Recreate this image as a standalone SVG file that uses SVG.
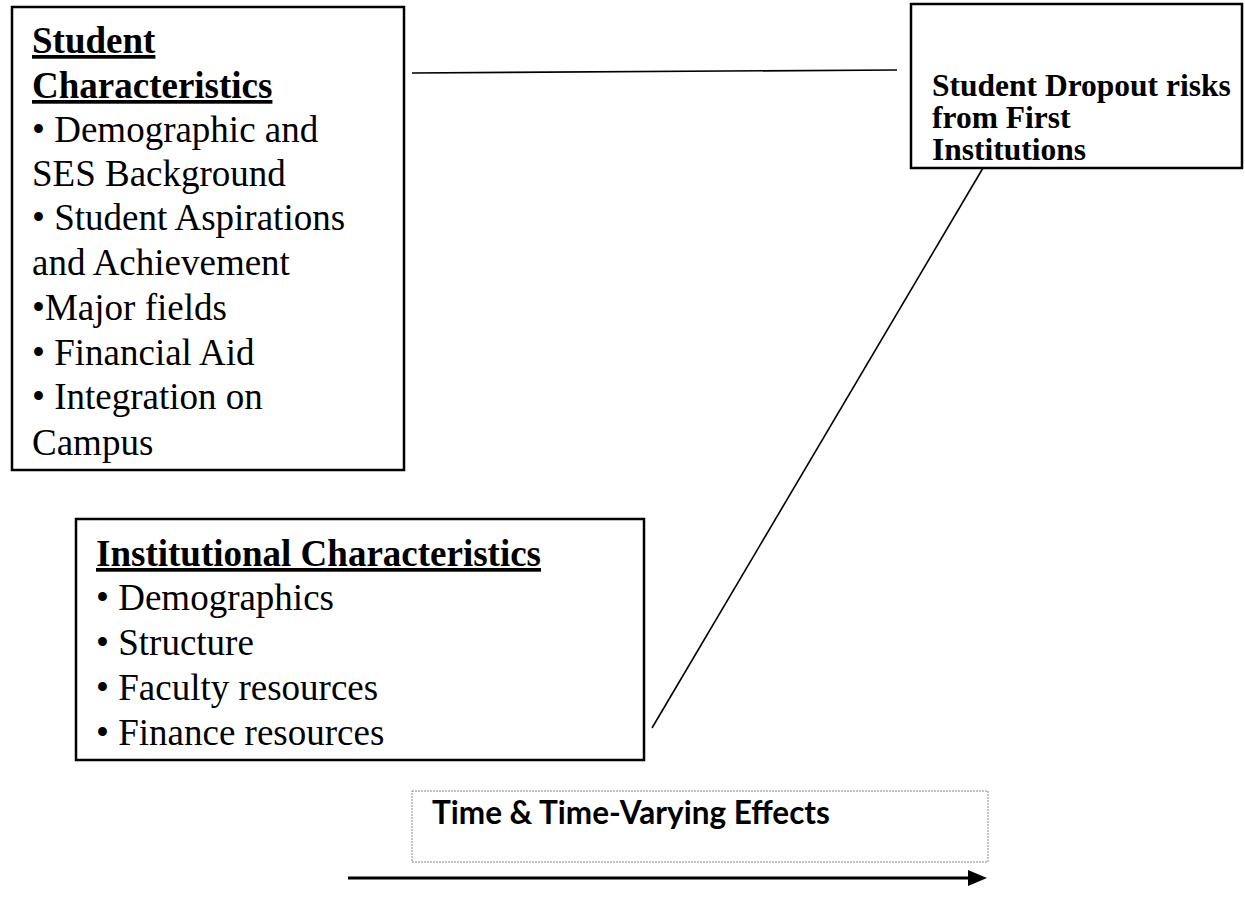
<svg xmlns="http://www.w3.org/2000/svg" width="1245" height="910" viewBox="0 0 1245 910">
<style>
.box{fill:#fff;stroke:#000;stroke-width:2.5}
.tb{font-family:"Liberation Serif","Times New Roman",serif;font-size:37px;fill:#000}
.bold{font-weight:bold}
.u{text-decoration:underline}
.drop{font-family:"Liberation Serif","Times New Roman",serif;font-size:31.5px;font-weight:bold;fill:#000}
.conn{stroke:#000;stroke-width:1.6;fill:none}
.time{font-family:Lato,"Open Sans",sans-serif;font-size:31.5px;font-weight:bold;fill:#000}
</style>
<rect width="1245" height="910" fill="#fff"/>
<g id="connectors">
<line class="conn" x1="412" y1="73" x2="897" y2="70"/>
<line class="conn" x1="652" y1="728" x2="983" y2="168"/>
<line x1="348" y1="878" x2="972" y2="878" stroke="#000" stroke-width="3"/>
<path d="M968,870 L987,878 L968,886 Z" fill="#000"/>
</g>
<g id="student">
<rect class="box" x="12" y="7" width="392" height="463"/>
<text class="tb bold u" x="32" y="53">Student</text>
<text class="tb bold u" x="32" y="98">Characteristics</text>
<text class="tb" x="32" y="142">• Demographic and</text>
<text class="tb" x="32" y="186">SES Background</text>
<text class="tb" x="32" y="230">• Student Aspirations</text>
<text class="tb" x="32" y="275">and Achievement</text>
<text class="tb" x="32" y="320">•Major fields</text>
<text class="tb" x="32" y="365">• Financial Aid</text>
<text class="tb" x="32" y="409">• Integration on</text>
<text class="tb" x="32" y="455">Campus</text>
</g>
<g id="dropout">
<rect class="box" x="911" y="4" width="331" height="164"/>
<text class="drop" x="932" y="96">Student Dropout risks</text>
<text class="drop" x="932" y="128">from First</text>
<text class="drop" x="932" y="160">Institutions</text>
</g>
<g id="institutional">
<rect class="box" x="76" y="519" width="568" height="241"/>
<text class="tb bold u" x="96" y="566">Institutional Characteristics</text>
<text class="tb" x="96" y="610">• Demographics</text>
<text class="tb" x="96" y="655">• Structure</text>
<text class="tb" x="96" y="700">• Faculty resources</text>
<text class="tb" x="96" y="745">• Finance resources</text>
</g>
<g id="time">
<rect x="412" y="791" width="576" height="71" fill="#fff" stroke="#888" stroke-width="1" stroke-dasharray="2,1"/>
<text class="time" x="432" y="824">Time &amp; Time-Varying Effects</text>
</g>
</svg>
